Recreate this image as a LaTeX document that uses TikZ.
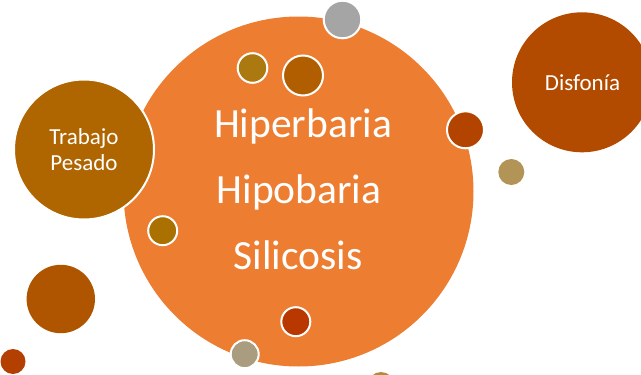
\documentclass[tikz,border=0pt]{standalone}
\usepackage{fontspec}
\setmainfont{Carlito}
\definecolor{cOrange}{HTML}{ED7D31}
\definecolor{cGray}{HTML}{A5A5A5}
\definecolor{cOlive}{HTML}{AC7810}
\definecolor{cBrownMed}{HTML}{B05E00}
\definecolor{cRedRight}{HTML}{B34400}
\definecolor{cDisf}{HTML}{B24B00}
\definecolor{cTan}{HTML}{B29556}
\definecolor{cTrabajo}{HTML}{AF6500}
\definecolor{cOliveTwo}{HTML}{AA7000}
\definecolor{cBrownBL}{HTML}{AF5500}
\definecolor{cRedSmall}{HTML}{B33F00}
\definecolor{cRedInner}{HTML}{B83800}
\definecolor{cTanBot}{HTML}{AA9C7E}
\definecolor{cGold}{HTML}{B8893A}
\begin{document}
\begin{tikzpicture}[x=1pt,y=1pt,
  bub/.style={circle,inner sep=0pt,outer sep=0pt,draw=white,line width=2pt},
  plain/.style={circle,inner sep=0pt,outer sep=0pt,draw=none},
  bigtxt/.style={anchor=base,inner sep=0pt,text=white,font=\fontsize{41.5}{45}\selectfont},
  smalltxt/.style={text=white,align=center,font=\fontsize{23}{25.7}\selectfont}]
\useasboundingbox (0,0) rectangle (641,-375);
\clip (0,0) rectangle (641,-375);
% main circle
\node[plain,fill=cOrange,minimum size=350pt] (main) at (298.5,-191.5) {};
% circles
\node[bub,fill=cOlive,minimum size=29.6pt] (o1) at (252.5,-68) {};
\node[bub,fill=cBrownMed,minimum size=40pt] (bm) at (303,-75.5) {};
\node[bub,fill=cGray,minimum size=37.6pt] (gray) at (342.5,-19.5) {};
\node[bub,fill=cRedRight,minimum size=37pt] (rr) at (465.5,-129.8) {};
\node[plain,fill=cDisf,minimum size=140pt] (disf) at (582,-82.3) {};
\node[plain,fill=cTan,minimum size=26pt] (tan) at (511.3,-172) {};
\node[bub,fill=cTrabajo,minimum size=140pt] (trab) at (84,-149.5) {};
\node[bub,fill=cOliveTwo,minimum size=29pt] (o2) at (162.7,-230.7) {};
\node[plain,fill=cBrownBL,minimum size=68.4pt] (bl) at (60.8,-299) {};
\node[plain,fill=cRedSmall,minimum size=25pt] (rs) at (13,-361.5) {};
\node[bub,fill=cRedInner,minimum size=29pt] (ri) at (295.8,-321.7) {};
\node[bub,fill=cTanBot,minimum size=28pt] (tb) at (244.7,-354.2) {};
\node[plain,fill=cGold,minimum size=26pt] (gold) at (381,-385) {};
% texts
\node[smalltxt] (ttrab) at (84,-149.5) {Trabajo\\Pesado};
\node[smalltxt] (tdisf) at (582.5,-82.3) {Disfonía};
\node[bigtxt] (t1) at (303,-137.7) {Hiperbaria};
\node[bigtxt] (t2) at (299,-203.3) {Hipobaria};
\node[bigtxt] (t3) at (298,-269) {Silicosis};
\end{tikzpicture}
\end{document}
